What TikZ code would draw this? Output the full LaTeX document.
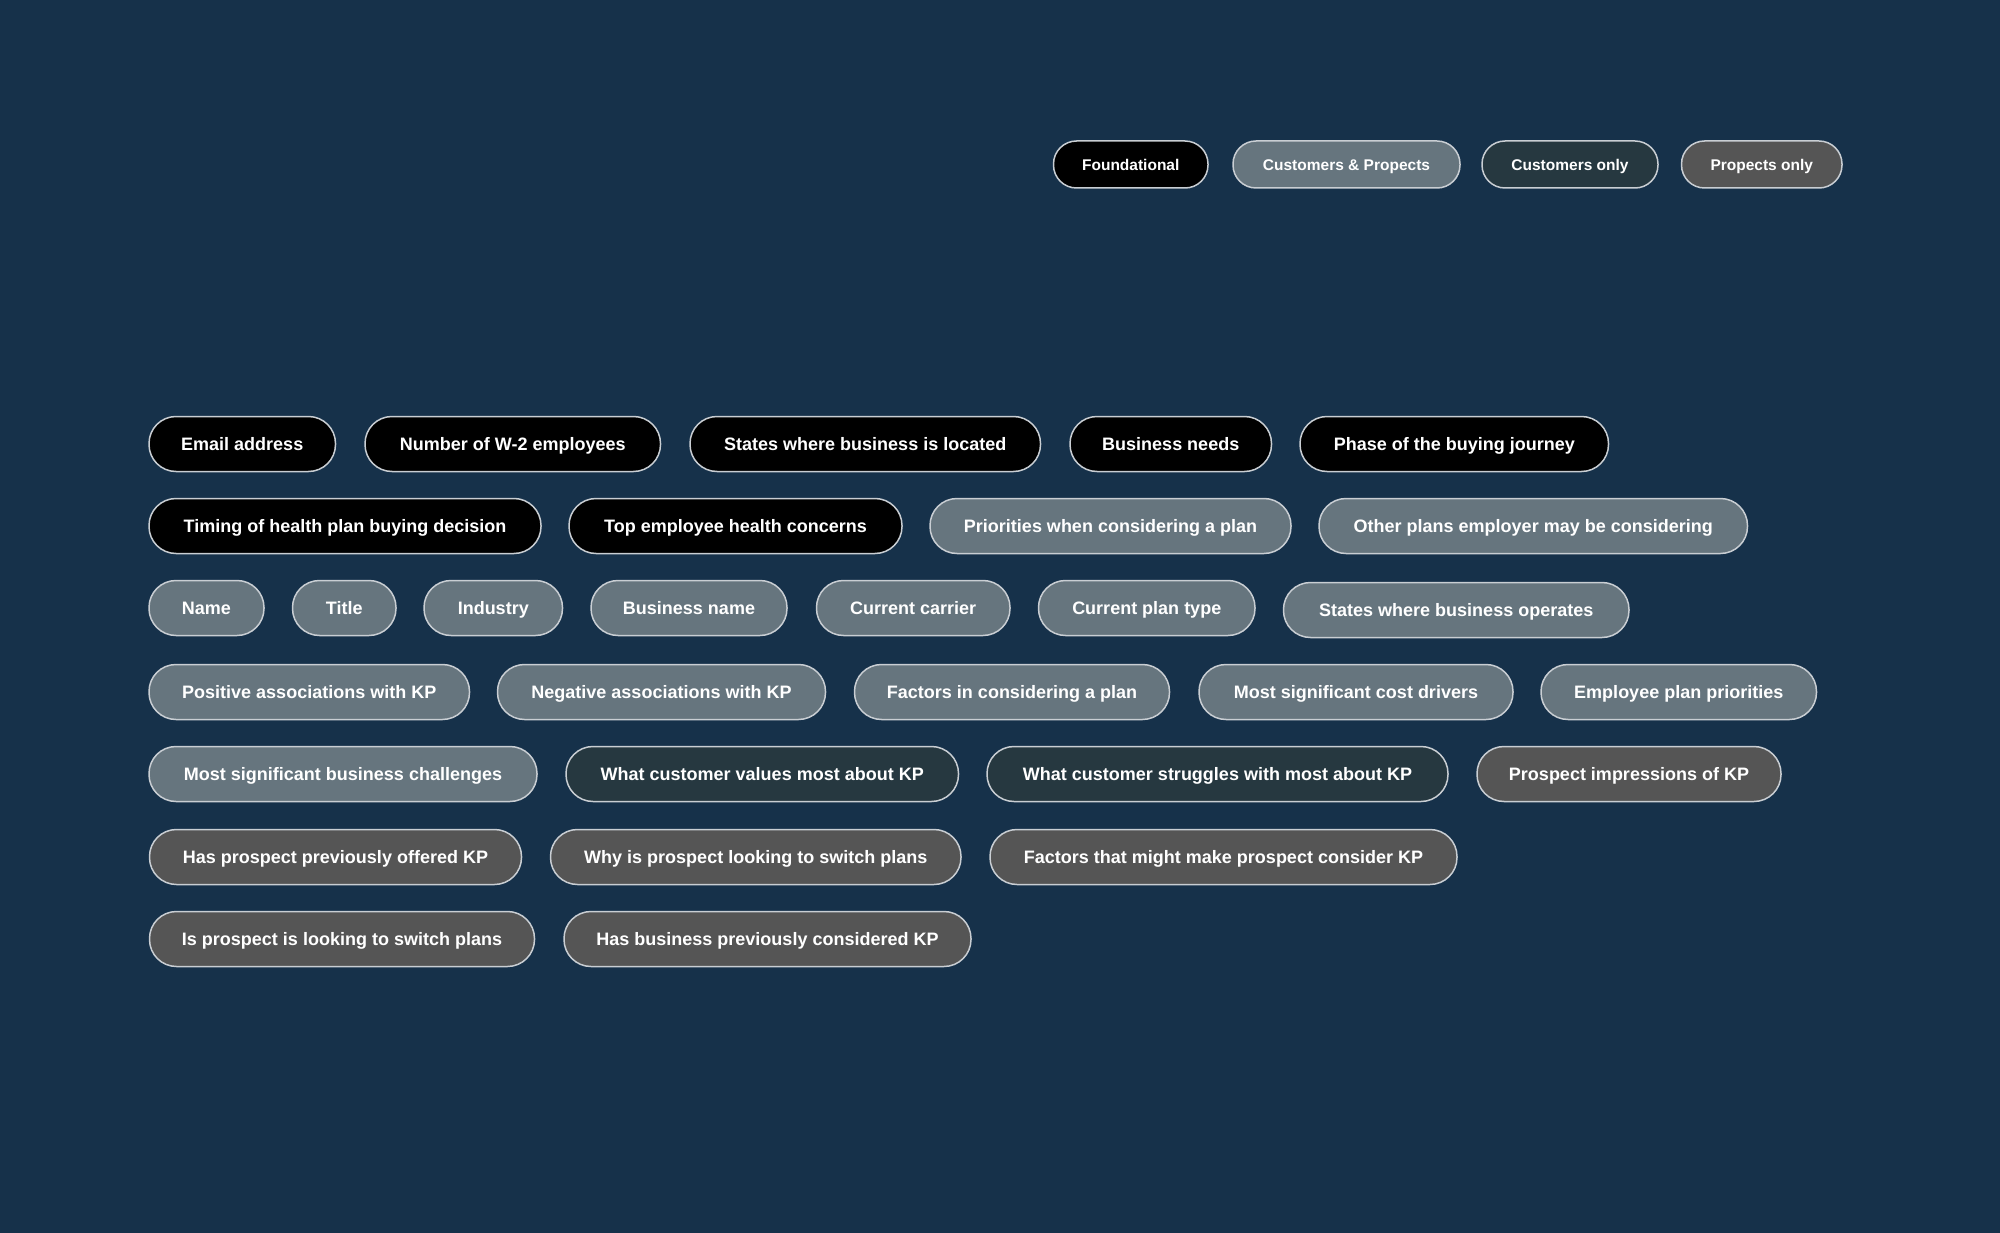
\documentclass[tikz,border=0pt]{standalone}
\usepackage{fontspec}
\setmainfont{Liberation Sans}
\definecolor{bgnavy}{HTML}{16314A}
\definecolor{cfound}{HTML}{000000}
\definecolor{cboth}{HTML}{66757E}
\definecolor{ccust}{HTML}{263840}
\definecolor{cprosp}{HTML}{555555}
\definecolor{cedge}{HTML}{C9CED3}
\tikzset{
  pillbox/.style={draw=cedge, line width=1.5pt, rounded corners=27pt, minimum height=55pt,
    inner sep=0pt, text height=12.9pt, text depth=0pt, text=white, font=\fontsize{18}{20}\selectfont\bfseries},
  legbox/.style={pillbox, rounded corners=23pt, minimum height=47pt, text height=11.1pt,
    font=\fontsize{15.5}{18}\selectfont\bfseries},
}
\newcommand\mkpill[7]{% style, fill, name, left, right, y, text
  \node[#1, fill=#2, minimum width={(#5-#4)*1pt}] (#3) at ({(#4+#5)/2}, #6) {#7};}
\begin{document}
\begin{tikzpicture}[x=1pt, y=-1pt]
\fill[bgnavy] (0,0) rectangle (2000,1233);
\useasboundingbox (0,0) rectangle (2000,1233);
% legend
\mkpill{legbox}{cfound}{lf}{1053.5}{1208}{164.5}{Foundational}
\mkpill{legbox}{cboth}{lb}{1233}{1460}{164.5}{Customers \& Propects}
\mkpill{legbox}{ccust}{lc}{1482}{1658}{164.5}{Customers only}
\mkpill{legbox}{cprosp}{lp}{1681.5}{1842}{164.5}{Propects only}
% row 1
\mkpill{pillbox}{cfound}{a1}{149}{335.5}{444}{Email address}
\mkpill{pillbox}{cfound}{a2}{365}{660.5}{444}{Number of W-2 employees}
\mkpill{pillbox}{cfound}{a3}{690}{1040.5}{444}{States where business is located}
\mkpill{pillbox}{cfound}{a4}{1070}{1271.5}{444}{Business needs}
\mkpill{pillbox}{cfound}{a5}{1300}{1608.5}{444}{Phase of the buying journey}
% row 2
\mkpill{pillbox}{cfound}{b1}{149}{541}{526}{Timing of health plan buying decision}
\mkpill{pillbox}{cfound}{b2}{569}{902}{526}{Top employee health concerns}
\mkpill{pillbox}{cboth}{b3}{930}{1291}{526}{Priorities when considering a plan}
\mkpill{pillbox}{cboth}{b4}{1319}{1747.5}{526}{Other plans employer may be considering}
% row 3
\mkpill{pillbox}{cboth}{c1}{149}{264}{608}{Name}
\mkpill{pillbox}{cboth}{c2}{292.5}{396}{608}{Title}
\mkpill{pillbox}{cboth}{c3}{424}{562.5}{608}{Industry}
\mkpill{pillbox}{cboth}{c4}{591}{787}{608}{Business name}
\mkpill{pillbox}{cboth}{c5}{816.5}{1010}{608}{Current carrier}
\mkpill{pillbox}{cboth}{c6}{1038.5}{1255}{608}{Current plan type}
\mkpill{pillbox}{cboth}{c7}{1283.5}{1629}{610}{States where business operates}
% row 4
\mkpill{pillbox}{cboth}{d1}{149}{469.5}{692}{Positive associations with KP}
\mkpill{pillbox}{cboth}{d2}{497.5}{825.5}{692}{Negative associations with KP}
\mkpill{pillbox}{cboth}{d3}{854.5}{1169.5}{692}{Factors in considering a plan}
\mkpill{pillbox}{cboth}{d4}{1199}{1513}{692}{Most significant cost drivers}
\mkpill{pillbox}{cboth}{d5}{1541}{1816.5}{692}{Employee plan priorities}
% row 5
\mkpill{pillbox}{cboth}{e1}{149}{537}{774}{Most significant business challenges}
\mkpill{pillbox}{ccust}{e2}{566}{958.5}{774}{What customer values most about KP}
\mkpill{pillbox}{ccust}{e3}{987}{1448}{774}{What customer struggles with most about KP}
\mkpill{pillbox}{cprosp}{e4}{1477}{1781}{774}{Prospect impressions of KP}
% row 6
\mkpill{pillbox}{cprosp}{f1}{149.5}{521.5}{857}{Has prospect previously offered KP}
\mkpill{pillbox}{cprosp}{f2}{550.5}{961}{857}{Why is prospect looking to switch plans}
\mkpill{pillbox}{cprosp}{f3}{990}{1457}{857}{Factors that might make prospect consider KP}
% row 7
\mkpill{pillbox}{cprosp}{g1}{149.5}{534.5}{939}{Is prospect is looking to switch plans}
\mkpill{pillbox}{cprosp}{g2}{564}{971}{939}{Has business previously considered KP}
\end{tikzpicture}
\end{document}
